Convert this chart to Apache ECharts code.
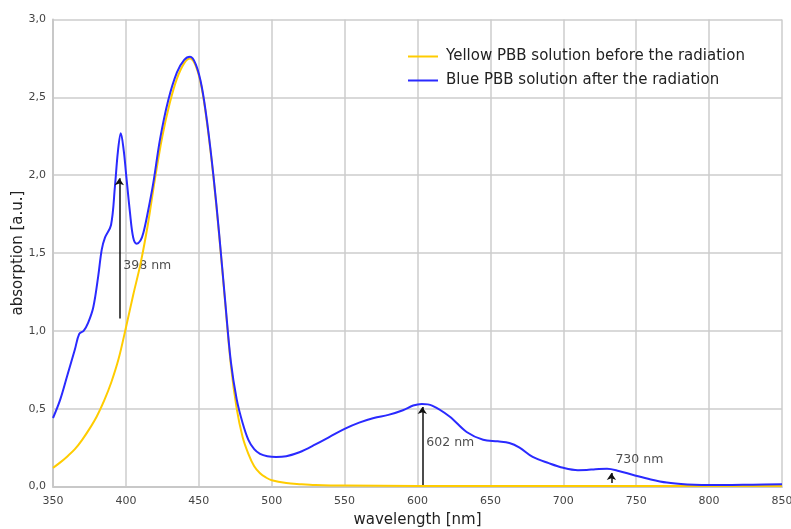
<!DOCTYPE html>
<html>
<head>
<meta charset="utf-8">
<script src="https://cdn.jsdelivr.net/npm/echarts@6/dist/echarts.min.js"></script>
<style>
  html, body { margin: 0; padding: 0; background: #fff; }
  #chart { width: 791px; height: 529px; }
</style>
</head>
<body>
<div id="chart"></div>
<script>
// wavelength [nm] / absorption [a.u.]
const yellowWl = [350, 355, 360, 365, 370, 375, 380, 385, 390, 395, 400, 405, 410, 415, 420, 425, 430, 435, 440, 444, 448, 452, 456, 460, 464, 468, 472, 476, 480, 484, 488, 492, 496, 500, 510, 520, 530, 550, 600, 700, 850]
const yellowAbs = [0.12, 0.155, 0.195, 0.24, 0.30, 0.37, 0.45, 0.55, 0.67, 0.82, 1.02, 1.23, 1.43, 1.68, 1.98, 2.25, 2.46, 2.62, 2.72, 2.75, 2.70, 2.56, 2.31, 1.99, 1.61, 1.19, 0.78, 0.50, 0.32, 0.21, 0.13, 0.085, 0.058, 0.04, 0.022, 0.015, 0.01, 0.006, 0.004, 0.003, 0.003]

const blueWl = [350, 355, 360, 365, 368, 371, 374, 377.6, 381, 383.4, 385.7, 389.8, 392.5, 394.5, 396.5, 398.5, 400, 402.8, 405, 407.4, 410, 412, 415, 418.8, 423.4, 429, 435, 440, 444, 448, 452, 456, 460, 464, 468, 472, 476, 480, 484, 488, 492, 497, 503, 510, 519, 530, 540, 550, 560, 570, 580, 590, 597, 603, 610, 622, 633.7, 645, 655, 663, 670, 679, 690, 700, 710, 716, 722, 730, 738, 748, 760, 771, 785, 795, 810, 830, 850]
const blueAbs = [0.44, 0.56, 0.72, 0.88, 0.98, 1.00, 1.05, 1.15, 1.35, 1.52, 1.60, 1.68, 1.93, 2.15, 2.27, 2.16, 2.02, 1.76, 1.60, 1.56, 1.58, 1.63, 1.76, 1.95, 2.23, 2.48, 2.66, 2.74, 2.76, 2.71, 2.57, 2.32, 2.00, 1.62, 1.20, 0.80, 0.56, 0.41, 0.30, 0.24, 0.21, 0.195, 0.19, 0.195, 0.22, 0.27, 0.32, 0.37, 0.41, 0.44, 0.46, 0.49, 0.52, 0.53, 0.52, 0.45, 0.35, 0.30, 0.29, 0.28, 0.25, 0.19, 0.15, 0.12, 0.105, 0.106, 0.111, 0.114, 0.10, 0.074, 0.045, 0.025, 0.013, 0.01, 0.01, 0.012, 0.014]

// peak arrows
const arrowWl = [395.5, 603.3, 733]
const arrowFrom = [1.08, 0.01, 0.022]
const arrowTo = [1.98, 0.51, 0.086]
const peakLabels = ['398 nm', '602 nm', '730 nm']
const labelAbs = [1.415, 0.28, 0.17]

const seriesNames = ['Yellow PBB solution before the radiation', 'Blue PBB solution after the radiation']

const zip = (xs, ys) => xs.map((x, i) => [x, ys[i]])
const comma = v => v.toFixed(1).replace('.', ',')

const chart = echarts.init(document.getElementById('chart'))
const font = 'DejaVu Sans'

chart.setOption({
  animation: false,
  textStyle: { fontFamily: font },
  grid: { left: 53, right: 9, top: 19.5, bottom: 42.5, outerBoundsMode: 'none', containLabel: false },
  legend: {
    data: seriesNames,
    orient: 'vertical',
    left: 403,
    top: 44,
    itemWidth: 30,
    itemHeight: 2,
    itemGap: 9,
    icon: 'rect',
    textStyle: { fontFamily: font, fontSize: 15, color: '#222', padding: [0, 0, 0, 3] }
  },
  xAxis: {
    type: 'value',
    min: 350,
    max: 850,
    interval: 50,
    name: 'wavelength [nm]',
    nameLocation: 'middle',
    nameGap: 26,
    nameTextStyle: { fontSize: 15, color: '#222' },
    axisLine: { lineStyle: { color: '#c8c8c8', width: 2 } },
    axisTick: { show: false },
    axisLabel: { color: '#444', fontSize: 11, margin: 9 },
    splitLine: { lineStyle: { color: '#cccccc', width: 1.5 } }
  },
  yAxis: {
    type: 'value',
    min: 0,
    max: 3,
    interval: 0.5,
    name: 'absorption [a.u.]',
    nameLocation: 'middle',
    nameGap: 35,
    nameMoveOverlap: false,
    nameTextStyle: { fontSize: 15, color: '#222', verticalAlign: 'middle' },
    axisLine: { show: true, lineStyle: { color: '#c8c8c8', width: 2 } },
    axisTick: { show: false },
    axisLabel: { color: '#444', fontSize: 11, margin: 7, formatter: comma },
    splitLine: { lineStyle: { color: '#cccccc', width: 1.5 } }
  },
  series: [
    {
      name: seriesNames[0],
      type: 'line',
      data: zip(yellowWl, yellowAbs),
      smooth: 0.35,
      symbol: 'none',
      lineStyle: { color: '#ffcc00', width: 2 },
      itemStyle: { color: '#ffcc00' }
    },
    {
      name: seriesNames[1],
      type: 'line',
      data: zip(blueWl, blueAbs),
      smooth: 0.35,
      symbol: 'none',
      lineStyle: { color: '#2a2aff', width: 2 },
      itemStyle: { color: '#2a2aff' }
    },
    {
      name: 'peaks',
      type: 'scatter',
      symbolSize: 0,
      data: arrowWl.map((x, i) => ({ value: [x, labelAbs[i]], name: peakLabels[i] })),
      label: {
        show: true,
        position: 'right',
        distance: 4,
        formatter: p => p.name,
        color: '#222',
        fontSize: 12.5,
        fontFamily: font
      },
      markLine: {
        silent: true,
        symbol: ['none', 'arrow'],
        symbolSize: 7,
        label: { show: false },
        lineStyle: { color: '#111', width: 1.5, type: 'solid' },
        data: arrowWl.map((x, i) => [{ coord: [x, arrowFrom[i]] }, { coord: [x, arrowTo[i]] }])
      }
    }
  ]
})
</script>
</body>
</html>
